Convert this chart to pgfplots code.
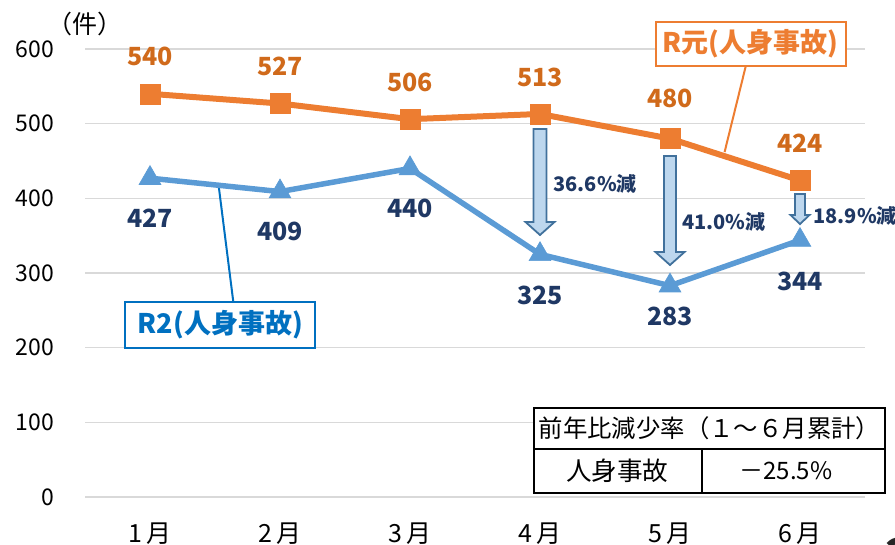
\documentclass[border=0pt]{standalone}
\usepackage{fontspec}
\setmainfont{Noto Sans CJK JP}
\usepackage{pgfplots}
\pgfplotsset{compat=1.18}
\definecolor{orng}{HTML}{ED7D31}
\definecolor{orngtxt}{HTML}{D06A1B}
\definecolor{blu}{HTML}{5B9BD5}
\definecolor{navy}{HTML}{1F3864}
\definecolor{boxblu}{HTML}{0070C0}
\definecolor{afill}{HTML}{BDD7EE}
\definecolor{aborder}{HTML}{41719C}
\definecolor{gridc}{HTML}{D9D9D9}
\newcommand\barrow[6]{%
  \draw[draw=aborder, fill=afill, line width=0.9bp, line join=miter]
    ([xshift=-#5]axis cs:#1,#2) -- ([xshift=-#5]axis cs:#1,#3) -- ([xshift=-#6]axis cs:#1,#3)
    -- (axis cs:#1,#4) -- ([xshift=#6]axis cs:#1,#3) -- ([xshift=#5]axis cs:#1,#3)
    -- ([xshift=#5]axis cs:#1,#2) -- cycle;}
\newcommand\fs[1]{\fontsize{#1}{#1}\selectfont}
\begin{document}
\begin{tikzpicture}
\path[use as bounding box] (-42.5bp,-24bp) rectangle (405bp,248.5bp);
\begin{axis}[name=ax, at={(0,0)}, anchor=south west,
  scale only axis, width=390bp, height=224bp,
  xmin=-0.5, xmax=5.5, ymin=0, ymax=600,
  ytick={0,100,...,600}, xtick={0,...,5},
  xticklabels={1\,月,2\,月,3\,月,4\,月,5\,月,6\,月},
  ymajorgrids, grid style={draw=gridc, line width=0.8bp},
  axis line style={draw=none}, major tick length=0pt,
  tick label style={font=\fs{11.5bp}},
  yticklabel style={xshift=-12bp},
  xticklabel style={yshift=-9.5bp, font=\fs{12.5bp}},
  /pgf/number format/assume math mode=true,
  clip=false]
% arrows
\barrow{3}{492.8}{368.3}{350.9}{3.25bp}{7.25bp}
\barrow{4}{456.7}{328.1}{310.7}{3bp}{7.25bp}
\barrow{5}{405.8}{377.7}{365.6}{2.5bp}{4.75bp}
% leader lines
\draw[orng, line width=1bp] (axis cs:4.583,577.2) -- (axis cs:4.420,462.0);
\draw[boxblu, line width=1bp] (axis cs:0.641,261.1) -- (axis cs:0.5255,420.5);
\addplot[orng, line width=3bp, mark=square*, mark size=5bp, mark options={line width=0.3bp}]
  coordinates {(0,540)(1,527)(2,506)(3,513)(4,480)(5,424)};
\addplot[blu, line width=2.75bp, mark=triangle*, mark size=6.3bp, mark options={line width=0.3bp}]
  coordinates {(0,427)(1,409)(2,440)(3,325)(4,283)(5,344)};
% data labels
\begin{scope}[every node/.style={font=\fs{12.5bp}\bfseries, text=orngtxt}]
\node[yshift=18.5bp] at (axis cs:0,540) {540};
\node[yshift=18.5bp] at (axis cs:1,527) {527};
\node[yshift=18.5bp] at (axis cs:2,506) {506};
\node[yshift=18.5bp] at (axis cs:3,513) {513};
\node[yshift=20bp] at (axis cs:4,480) {480};
\node[yshift=18.5bp] at (axis cs:5,424) {424};
\end{scope}
\begin{scope}[every node/.style={font=\fs{12.5bp}\bfseries, text=navy}]
\node[yshift=-20bp] at (axis cs:0,427) {427};
\node[yshift=-20bp] at (axis cs:1,409) {409};
\node[yshift=-20bp] at (axis cs:2,440) {440};
\node[yshift=-20.5bp] at (axis cs:3,325) {325};
\node[yshift=-15.5bp] at (axis cs:4,283) {283};
\node[yshift=-20.5bp] at (axis cs:5,344) {344};
\node[font=\fs{10bp}\bfseries] at (axis cs:3.425,419.5) {36.6\%減};
\node[font=\fs{10bp}\bfseries] at (axis cs:4.413,368.6) {41.0\%減};
\node[font=\fs{10bp}\bfseries] at (axis cs:5.425,376.6) {18.9\%減};
\end{scope}
% series boxes
\node[draw=orng, line width=1bp, fill=white, text=orng, font=\fs{13.5bp}\bfseries,
  minimum width=95bp, minimum height=22bp, inner sep=0pt] at (axis cs:4.621,606.7) {R元(人身事故)};
\node[draw=boxblu, line width=1bp, fill=white, text=boxblu, font=\fs{13.5bp}\bfseries,
  minimum width=95bp, minimum height=23bp, inner sep=0pt] at (axis cs:0.541,230.3) {R2(人身事故)};
% unit
\node[font=\fs{12.5bp}] at (axis cs:-0.50,634) {（件）};
% table
\fill[white] (axis cs:2.952,119.2) rectangle (axis cs:5.657,5.36);
\draw[black, line width=1bp] (axis cs:2.952,119.2) rectangle (axis cs:5.657,5.36);
\draw[black, line width=1bp] (axis cs:2.952,64.3) -- (axis cs:5.657,64.3);
\draw[black, line width=1bp] (axis cs:4.243,64.3) -- (axis cs:4.243,5.36);
\node[font=\fs{12.2bp}] at (axis cs:4.304,92.4) {前年比減少率（１～６月累計）};
\node[font=\fs{12.8bp}] at (axis cs:3.594,34.8) {人身事故};
\node[font=\fs{12bp}] at (axis cs:4.892,34.8) {－25.5\%};
\node[font=\fs{24bp}\bfseries, anchor=north west, inner sep=0pt, text=black!85] at (axis cs:5.657,-54) {2};
\end{axis}
\end{tikzpicture}
\end{document}
